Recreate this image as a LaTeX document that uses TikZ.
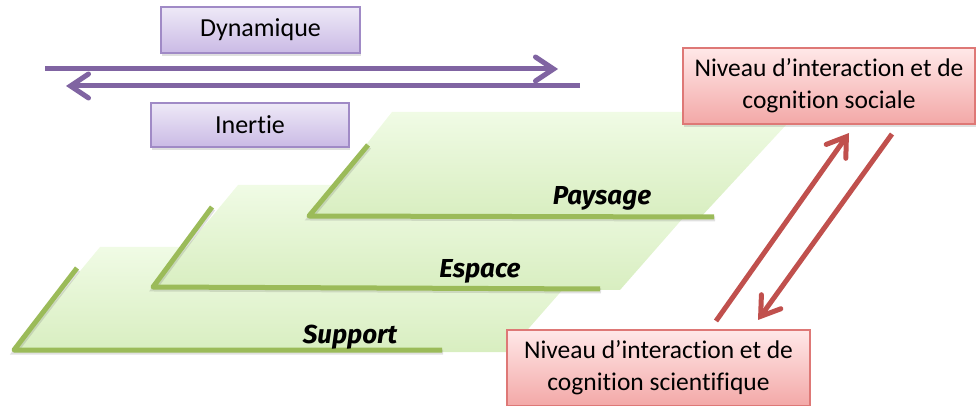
\documentclass[tikz,border=0pt]{standalone}
\usepackage{fontspec}
\setmainfont{Carlito}[Ligatures=NoCommon]
\newfontfamily\layerfont{Fira Sans}
\usetikzlibrary{arrows.meta,shadows}

\definecolor{lilas}{RGB}{128,100,162}
\definecolor{lilasborder}{RGB}{160,138,198}
\definecolor{lilastop}{RGB}{238,233,247}
\definecolor{lilasbot}{RGB}{202,186,229}
\definecolor{rouge}{RGB}{192,80,77}
\definecolor{rougeborder}{RGB}{222,120,118}
\definecolor{rosetop}{RGB}{255,232,232}
\definecolor{rosebot}{RGB}{243,168,167}
\definecolor{vert}{RGB}{155,187,89}
\definecolor{verttop}{RGB}{240,251,229}
\definecolor{vertbot}{RGB}{216,238,192}

\tikzset{
  purplebox/.style={draw=lilasborder, line width=1.2pt, top color=lilastop, bottom color=lilasbot,
    drop shadow={shadow xshift=1pt, shadow yshift=-3pt, opacity=0.25},
    font=\fontsize{26pt}{30pt}\selectfont, inner sep=0pt},
  redbox/.style={draw=rougeborder, line width=1.2pt, top color=rosetop, bottom color=rosebot,
    drop shadow={shadow xshift=1pt, shadow yshift=-3pt, opacity=0.25},
    font=\fontsize{25.5pt}{32pt}\selectfont, align=center, inner sep=0pt,
    minimum height=76pt},
  plane/.style={top color=verttop, bottom color=vertbot},
  stripe/.style={draw=vert, line width=5pt, line join=round,
    preaction={draw=black!60, opacity=0.2, line width=5pt, transform canvas={shift={(1pt,-2pt)}}}},
  layer/.style={font=\layerfont\bfseries\itshape\fontsize{26pt}{30pt}\selectfont, anchor=base},
  flow/.style={line width=5pt, -{Straight Barb[length=18pt,width=24pt,line cap=round]}}
}

\begin{document}
\begin{tikzpicture}[x=1pt, y=-1pt]
	\useasboundingbox (0,0) rectangle (978,406);

	% couches
	\shade[plane] (13,352) -- (100,247) -- (600,247) -- (508,352) -- cycle;
	\draw[stripe] (77,268) -- (14,350) -- (442,350);
	\node (support) at (350,343) [layer] {Support};

	\shade[plane] (152,289) -- (238,185) -- (712,185) -- (620,290) -- cycle;
	\draw[stripe] (212,207) -- (153,287) -- (600,289);
	\node (espace) at (480,278) [layer] {Espace};

	\shade[plane] (308,218) -- (392,112) -- (798,112) -- (700,218) -- cycle;
	\draw[stripe] (368,145) -- (309,216) -- (714,217);
	\node (paysage) at (602,205) [layer] {Paysage};

	% dynamique / inertie
	\node (dyn) at (260.5,30) [purplebox, minimum width=199pt, minimum height=46pt] {Dynamique};
	\node (inert) at (250,125) [purplebox, minimum width=198pt, minimum height=44pt] {Inertie};
	\coordinate (d1) at (45,69);
	\coordinate (d2) at (558,69);
	\coordinate (i1) at (580,86);
	\coordinate (i2) at (66,86);
	\draw[flow, lilas] (d1) -- (d2);
	\draw[flow, lilas] (i1) -- (i2);

	% niveaux
	\node (social) at (829,86) [redbox, minimum width=292pt] {Niveau d’interaction et de\\cognition sociale};
	\node (scient) at (658.5,368) [redbox, minimum width=303pt] {Niveau d’interaction et de\\cognition scientifique};
	\coordinate (u1) at (716,321);
	\coordinate (u2) at (849,133);
	\coordinate (v1) at (892,134);
	\coordinate (v2) at (758,320);
	\draw[flow, rouge] (u1) -- (u2);
	\draw[flow, rouge] (v1) -- (v2);
\end{tikzpicture}
\end{document}
